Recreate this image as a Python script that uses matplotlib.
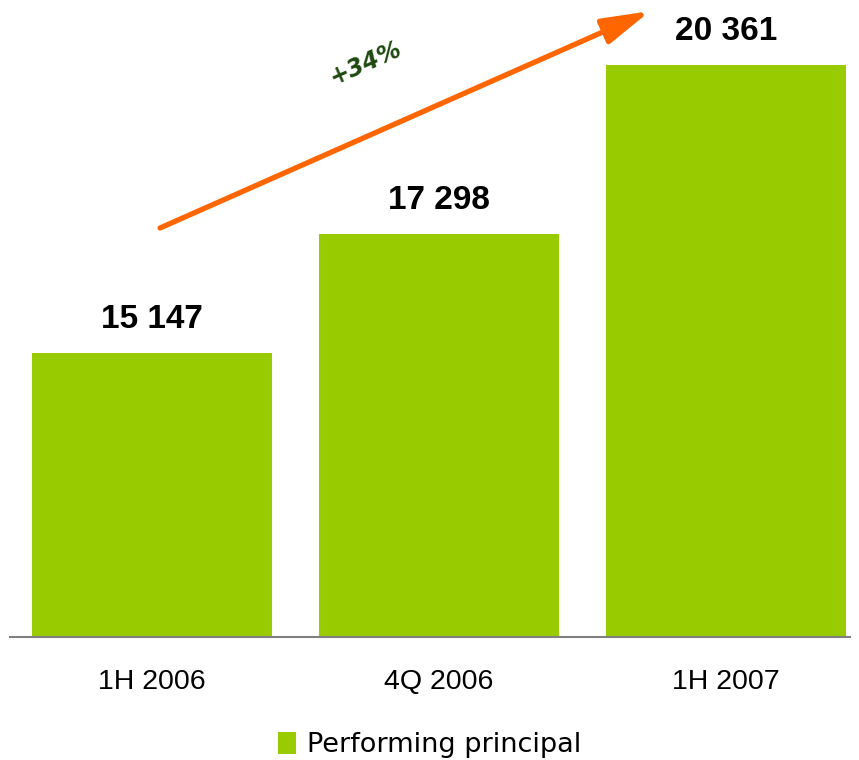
import matplotlib
matplotlib.use("Agg")
import matplotlib.pyplot as plt
from matplotlib.patches import Patch

categories = ["1H 2006", "4Q 2006", "1H 2007"]
values = [15147, 17298, 20361]
value_labels = ["15 147", "17 298", "20 361"]
series_name = "Performing principal"
growth_label = "+34%"

bar_color = "#99CC00"
arrow_color = "#FF6600"

fig = plt.figure(figsize=(8.59, 7.60), dpi=100)
ax = fig.add_axes([0.0, (760 - 637) / 760, 1.0, 637 / 760])

x = list(range(len(categories)))
ax.bar(x, values, width=240 / 287, color=bar_color, zorder=2)
ax.set_xlim(-0.5296, -0.5296 + 859 / 287)
ax.set_ylim(10000, 10000 + 637 / 0.05524)

for xi, v, lab in zip(x, values, value_labels):
    ax.annotate(lab, (xi, v), xytext=(0, 13), textcoords="offset points",
                ha="center", va="bottom", fontsize=24, fontweight="bold",
                family="Liberation Sans", color="#000000")

ax.set_xticks(x)
ax.set_xticklabels(categories, fontsize=20.5, family="Liberation Sans")
ax.tick_params(axis="x", length=0, pad=23)
ax.set_yticks([])
for s in ["top", "right", "left"]:
    ax.spines[s].set_visible(False)
ax.spines["bottom"].set_color("#808080")
ax.spines["bottom"].set_linewidth(1.5)
ax.spines["bottom"].set_bounds(-0.5296 + 10 / 287, -0.5296 + 850 / 287)

# growth arrow
ax.annotate("", xy=(1.735, 21330), xytext=(0.028, 17404),
            arrowprops=dict(arrowstyle="-|>,head_length=2.9,head_width=0.8",
                            color=arrow_color, lw=3.8, shrinkA=0, shrinkB=0),
            zorder=3)
ax.text(0.745, 20390, growth_label, rotation=24, ha="center", va="center",
        fontsize=17, fontweight="bold", fontstyle="italic",
        family="DejaVu Sans", color="#1E4A10")

handle = Patch(facecolor=bar_color, edgecolor="none")
fig.legend([handle], [series_name], loc="center", bbox_to_anchor=(0.5, 1 - 745 / 760),
           frameon=False, handlelength=0.65, handleheight=0.85,
           handletextpad=0.4, prop={"family": "DejaVu Sans", "size": 19.5})

fig.savefig("out.png", dpi=100)
